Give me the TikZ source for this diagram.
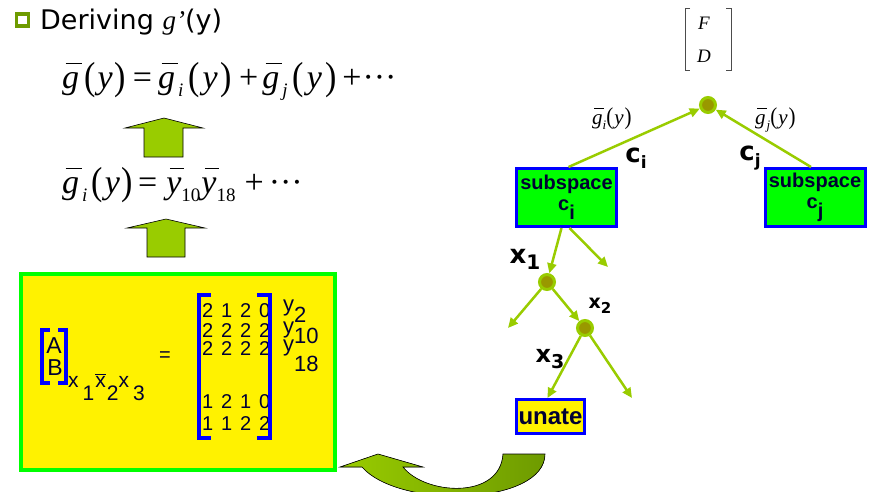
\documentclass[tikz,border=0pt]{standalone}
\usepackage{graphicx}
\usepackage{fontspec}
\setmainfont{Liberation Serif}
\setsansfont{DejaVu Sans}
\newfontfamily\arialfont{Liberation Sans}
\usetikzlibrary{arrows.meta,positioning,calc}
\definecolor{leaf}{RGB}{153,204,0}
\definecolor{olivedot}{RGB}{153,153,0}
\definecolor{darkleaf}{RGB}{110,155,0}
\definecolor{navy}{RGB}{0,0,51}
\definecolor{limegreen}{RGB}{0,255,0}
\newcommand{\setfs}[1]{\fontsize{#1}{#1}\selectfont}
\newcommand{\mrow}[4]{\makebox[19pt]{#1}\makebox[19pt]{#2}\makebox[19pt]{#3}\makebox[19pt]{#4}}
% overlined italic letter, lowered subscript, tall parentheses, centred dots
\newcommand{\ob}[1]{\setbox0=\hbox{\itshape #1}\rlap{\kern0.1em\rule[0.7em]{\dimexpr\wd0-0.02em\relax}{0.045em}}\box0}
\newcommand{\sbs}[2]{\raisebox{-0.25em}{\fontsize{#1}{#1}\selectfont #2}}
\newcommand{\lp}{\raisebox{-0.03em}{\scalebox{1}[1.15]{(}}}
\newcommand{\rp}{\raisebox{-0.03em}{\scalebox{1}[1.15]{)}}}
\newcommand{\dotsx}{···}
\tikzset{
    dot/.style={circle,draw=leaf,line width=3pt,fill=olivedot,minimum size=15pt,inner sep=0pt},
    subbox/.style={rectangle,draw=blue,line width=3pt,fill=limegreen,minimum width=100pt,minimum height=58pt,
        inner sep=0pt,align=center,text=navy,font=\arialfont\bfseries\setfs{20}},
    unatebox/.style={rectangle,draw=blue,line width=3pt,fill=yellow,minimum width=68pt,minimum height=34pt,
        inner sep=0pt,text=navy,font=\arialfont\bfseries\setfs{24}},
    edge/.style={draw=leaf,line width=2.5pt,-{Triangle[length=10pt,width=9pt]}},
    fatarrow/.style={fill=leaf,draw=black,line width=0.6pt},
    lbl/.style={inner sep=0pt,font=\sffamily\bfseries},
    eqn/.style={inner sep=0pt,font=\rmfamily\setfs{34}},
    cell/.style={inner sep=0pt,text=navy,font=\arialfont\setfs{20}},
    brk/.style={draw=blue,line width=4pt}
}
\begin{document}
\begin{tikzpicture}[x=1pt,y=-1pt]
    \useasboundingbox (0,0) rectangle (870,491);
    \clip (0,0) rectangle (870,491);

    % title and equations
    \node[draw=darkleaf,line width=3.2pt,minimum size=12pt,inner sep=0pt] (bullet) at (22.5,20) {};
    \node[anchor=base west,inner sep=0pt,font=\sffamily\setfs{27}] (title) at (40,29) {Deriving {\rmfamily\itshape g’}(y)};
    \node[eqn,anchor=base west] (eqtop) at (62,88) {\ob{g}\kern5pt\lp\kern2pt\textit{y}\kern2pt\rp\kern7pt=\kern6pt\ob{g}\kern3pt\sbs{19}{\itshape i}\kern5pt\lp\kern3pt\textit{y}\kern3pt\rp\kern7pt+\kern4pt\ob{g}\kern3pt\sbs{19}{\itshape j}\kern5pt\lp\kern3pt\textit{y}\kern3pt\rp\kern6pt+\kern1pt\dotsx};
    \node[eqn,anchor=base west] (eqmid) at (62,193) {\ob{g}\kern3pt\sbs{19}{\itshape i}\kern4pt\lp\kern2pt\textit{y}\kern2pt\rp\kern5pt=\kern9pt\ob{y}\sbs{19}{10}\kern1pt\ob{y}\sbs{19}{18}\kern9pt+\kern5pt\dotsx};

    \filldraw[fatarrow] (144,157) -- (144,128) -- (125,128) -- (164,118) -- (203,128) -- (183,128) -- (183,157) -- cycle;
    \filldraw[fatarrow] (147,257) -- (147,228) -- (127,228) -- (166,219) -- (205,228) -- (185,228) -- (185,257) -- cycle;

    % matrix box
    \node[draw=limegreen,line width=4pt,fill=yellow,minimum width=314pt,minimum height=196pt,inner sep=0pt] (matbox) at (178,372) {};
    \node[cell,font=\arialfont\setfs{23}] (lA) at (54,346) {A};
    \node[cell,font=\arialfont\setfs{23}] (lB) at (55,368) {B};
    \draw[brk,line width=3.5pt] (50,330) -- (42,330) -- (42,383) -- (50,383);
    \draw[brk,line width=3.5pt] (58,330) -- (66,330) -- (66,383) -- (58,383);
    \node[cell,anchor=base west,font=\arialfont\setfs{21}] (xvars) at (68,387) {x\hspace{4pt}\raisebox{-13pt}{1}\hspace{1pt}$\overline{\mbox{x}}$\hspace{1pt}\raisebox{-13pt}{2}x\hspace{4pt}\raisebox{-13pt}{3}};
    \node[cell] (equal) at (165,357) {=};
    \node[cell,anchor=base west] (row1) at (198,317) {\mrow{2}{1}{2}{0}};
    \node[cell,anchor=base west] (row2) at (198,337) {\mrow{2}{2}{2}{2}};
    \node[cell,anchor=base west] (row3) at (198,355) {\mrow{2}{2}{2}{2}};
    \node[cell,anchor=base west] (row4) at (198,408) {\mrow{1}{2}{1}{0}};
    \node[cell,anchor=base west] (row5) at (198,430) {\mrow{1}{1}{2}{2}};
    \draw[brk] (211,295) -- (199,295) -- (199,438) -- (211,438);
    \draw[brk] (257,295) -- (270,295) -- (270,438) -- (257,438);
    \node[cell,anchor=base west,font=\arialfont\setfs{22}] (y2) at (283,311) {y\raisebox{-11pt}{2}};
    \node[cell,anchor=base west,font=\arialfont\setfs{22}] (y10) at (283,333) {y\raisebox{-10pt}{10}};
    \node[cell,anchor=base west,font=\arialfont\setfs{22}] (y18) at (283,351) {y\raisebox{-20pt}{18}};

    % tree
    \node[inner sep=0pt,font=\rmfamily\itshape\setfs{19}] (lF) at (704,23) {F};
    \node[inner sep=0pt,font=\rmfamily\itshape\setfs{19}] (lD) at (704,56) {D};
    \draw[black!70,line width=0.8pt] (690,8) -- (685,8) -- (685,70) -- (690,70);
    \draw[black!70,line width=0.8pt] (726,8) -- (731,8) -- (731,70) -- (726,70);

    \node[dot] (root) at (708,105) {};
    \node[subbox] (ci) at (566.5,197.5) {subspace\\[1pt]c\raisebox{-9pt}{i}};
    \node[subbox] (cj) at (815,197.5) {subspace\\[1pt]c\raisebox{-9pt}{j}};
    \draw[edge] ([xshift=2pt]ci.north) -- (root);
    \draw[edge] ([xshift=-4pt]cj.north) -- (root);
    \node[inner sep=0pt,anchor=base west,font=\rmfamily\setfs{21}] (gi) at (592,124) {\ob{g}\sbs{13}{\itshape i}\lp\kern1pt\textit{y}\kern1pt\rp};
    \node[inner sep=0pt,anchor=base west,font=\rmfamily\setfs{21}] (gj) at (755,124) {\ob{g}\kern1pt\sbs{13}{\itshape j}\lp\kern1pt\textit{y}\kern1pt\rp};
    \node[lbl,font=\sffamily\bfseries\setfs{26}] (lci) at (636,158) {c\raisebox{-6pt}{\setfs{17}i}};
    \node[lbl,font=\sffamily\bfseries\setfs{26}] (lcj) at (750,158) {c\raisebox{-6pt}{\setfs{17}j}};

    \node[dot] (d1) at (547,282) {};
    \node[dot] (d2) at (585,328) {};
    \node[unatebox] (unate) at (550.5,416.5) {unate};
    \coordinate (free0) at (608,267);
    \coordinate (free1) at (508,328);
    \coordinate (free2) at (632,398);

    \draw[edge] ([xshift=-5pt]ci.south) -- (d1);
    \draw[edge] ([xshift=3pt]ci.south) -- (free0);
    \draw[edge] (d1) -- (free1);
    \draw[edge] (d1) -- (d2);
    \draw[edge] (d2) -- ([xshift=-3pt]unate.north);
    \draw[edge] (d2) -- (free2);

    \node[lbl,font=\sffamily\bfseries\setfs{26}] (lx1) at (525,259) {x\raisebox{-6pt}{\setfs{20}1}};
    \node[lbl,font=\sffamily\bfseries\setfs{19}] (lx2) at (600,306) {x\raisebox{-5pt}{\setfs{15}2}};
    \node[lbl,font=\sffamily\bfseries\setfs{24}] (lx3) at (550,359) {x\raisebox{-6pt}{\setfs{19}3}};

    % curved arrow back to the matrix
    \filldraw[draw=black,line width=0.6pt,left color=leaf,right color=darkleaf]
        (545,454) .. controls (545,505) and (400,510) .. (362,467)
        -- (340,467) -- (378,454) -- (423,467) -- (403,467)
        .. controls (425,495) and (500,500) .. (503,454) -- cycle;
\end{tikzpicture}
\end{document}
